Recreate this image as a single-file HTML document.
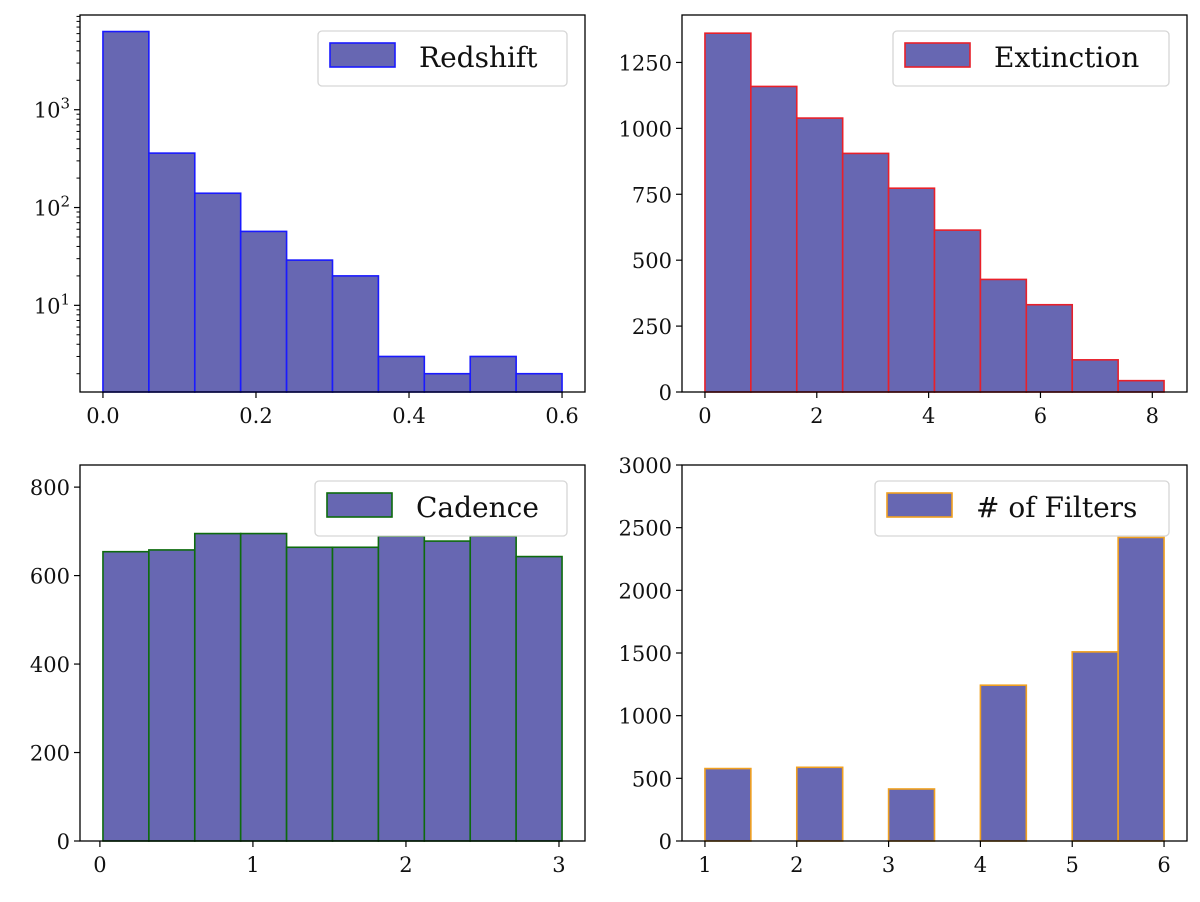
<!DOCTYPE html>
<html><head><meta charset="utf-8"><style>
html,body{margin:0;padding:0;background:#fff}
svg text{font-family:"DejaVu Serif","Liberation Serif",serif;fill:#111}
</style></head><body>
<svg id="fig" width="1200" height="897" xmlns="http://www.w3.org/2000/svg"></svg>
<script>
// Redshift
const redshiftEdgesMin = 0.0, redshiftEdgesMax = 0.6;
const redshiftCounts = [6300, 360, 140, 57, 29, 20, 3, 2, 3, 2];
const redshiftTicks = [0.0, 0.2, 0.4, 0.6];
const redshiftTickLabels = ["0.0", "0.2", "0.4", "0.6"];
const redshiftYTicks = [10, 100, 1000];
// Extinction
const extinctionMin = 0.0, extinctionMax = 8.21;
const extinctionCounts = [1361, 1159, 1039, 905, 773, 614, 427, 331, 122, 43];
const extinctionTicks = [0, 2, 4, 6, 8];
const extinctionYTicks = [0, 250, 500, 750, 1000, 1250];
// Cadence
const cadenceMin = 0.02, cadenceMax = 3.02;
const cadenceCounts = [654, 658, 695, 695, 664, 664, 689, 678, 689, 643];
const cadenceTicks = [0, 1, 2, 3];
const cadenceYTicks = [0, 200, 400, 600, 800];
// Filters
const filtersMin = 1, filtersMax = 6;
const filtersCounts = [578, 0, 588, 0, 415, 0, 1243, 0, 1509, 2422];
const filtersTicks = [1, 2, 3, 4, 5, 6];
const filtersYTicks = [0, 500, 1000, 1500, 2000, 2500, 3000];

const NS = "http://www.w3.org/2000/svg";
const svg = document.getElementById('fig');
function mk(tag, attrs, parent) {
  const e = document.createElementNS(NS, tag);
  for (const k in attrs) e.setAttribute(k, attrs[k]);
  (parent || svg).appendChild(e);
  return e;
}
const FILL = "#6767b2";

function panel(o) {
  const g = mk('g', {});
  
  
  const L = o.x0, R = o.x1, T = o.y0, B = o.y1;
  const span = o.max - o.min, xm = span * 0.05;
  const xs = v => L + (v - (o.min - xm)) / (span + 2 * xm) * (R - L);
  let ys;
  if (o.log) {
    const lo = Math.log10(o.ymin), hi = Math.log10(o.ymax);
    ys = v => B - (Math.log10(v) - lo) / (hi - lo) * (B - T);
  } else {
    ys = v => B - (v - o.ymin) / (o.ymax - o.ymin) * (B - T);
  }
  const n = o.counts.length, w = span / n;
  for (let i = 0; i < n; i++) {
    const v = o.counts[i];
    const xa = xs(o.min + i * w), xb = xs(o.min + (i + 1) * w);
    const base = o.log ? B : ys(0);
    const top = o.log ? (v > 0 ? ys(v) : B) : ys(v);
    const r = mk('rect', {x: xa, y: top, width: xb - xa, height: Math.max(0, base - top), fill: FILL, stroke: o.edge, 'stroke-width': 1.6}, g);
    
    
  }
  // frame
  const fr = mk('rect', {x: L, y: T, width: R - L, height: B - T, fill: 'none', stroke: '#000', 'stroke-width': 1.3}, g);
  
  
  // x ticks
  o.xticks.forEach((t, i) => {
    const x = xs(t);
    mk('line', {x1: x, x2: x, y1: B, y2: B + 6, stroke: '#000', 'stroke-width': 1.2}, g);
    const tx = mk('text', {x: x, y: B + 31, 'font-size': 21, 'text-anchor': 'middle'}, g);
    tx.textContent = o.xlabels ? o.xlabels[i] : String(t);
    
    
  });
  // y ticks
  o.yticks.forEach(t => {
    const y = ys(t);
    mk('line', {x1: L - 6, x2: L, y1: y, y2: y, stroke: '#000', 'stroke-width': 1.2}, g);
    const tx = mk('text', {x: L - 10, y: y + 8, 'font-size': 21, 'text-anchor': 'end'}, g);
    if (o.log) {
      tx.textContent = '10';
      const sup = mk('tspan', {dy: -9, 'font-size': 15}, tx);
      sup.textContent = String(Math.round(Math.log10(t)));
    } else tx.textContent = String(t);
    
    
  });
  if (o.log) {
    for (let d = 0; d <= 3; d++) for (let m = 2; m <= 9; m++) {
      const v = m * Math.pow(10, d);
      if (v < o.ymin || v > o.ymax) continue;
      const y = ys(v);
      mk('line', {x1: L - 3.5, x2: L, y1: y, y2: y, stroke: '#000', 'stroke-width': 1}, g);
    }
  }
  // legend
  const lg = mk('g', {}, g);
  
  
  mk('rect', {x: o.lx, y: o.ly, width: R - 18 - o.lx, height: 55, rx: 4, fill: 'rgba(255,255,255,0.85)', stroke: '#d6d6d6', 'stroke-width': 1.3}, lg);
  mk('rect', {x: o.lx + 12, y: o.ly + 12, width: 65, height: 24, fill: FILL, stroke: o.edge, 'stroke-width': 1.6}, lg);
  const lt = mk('text', {x: o.lx + 101, y: o.ly + 36, 'font-size': 28}, lg);
  lt.textContent = o.label;
  
  
}

panel({name: 'redshift', x0: 80, x1: 585, y0: 15, y1: 392, min: redshiftEdgesMin, max: redshiftEdgesMax,
  counts: redshiftCounts, log: true, ymin: 1.3, ymax: 9300, xticks: redshiftTicks, xlabels: redshiftTickLabels,
  yticks: redshiftYTicks, edge: '#1a1aff', label: 'Redshift', lx: 318, ly: 31});
panel({name: 'extinction', x0: 682, x1: 1187, y0: 15, y1: 392, min: extinctionMin, max: extinctionMax,
  counts: extinctionCounts, log: false, ymin: 0, ymax: 1430, xticks: extinctionTicks,
  yticks: extinctionYTicks, edge: '#e8202a', label: 'Extinction', lx: 893, ly: 31});
panel({name: 'cadence', x0: 80, x1: 585, y0: 465, y1: 841, min: cadenceMin, max: cadenceMax,
  counts: cadenceCounts, log: false, ymin: 0, ymax: 850, xticks: cadenceTicks,
  yticks: cadenceYTicks, edge: '#0d6b0d', label: 'Cadence', lx: 315, ly: 481});
panel({name: 'filters', x0: 682, x1: 1187, y0: 465, y1: 841, min: filtersMin, max: filtersMax,
  counts: filtersCounts, log: false, ymin: 0, ymax: 3000, xticks: filtersTicks,
  yticks: filtersYTicks, edge: '#f0a020', label: '# of Filters', lx: 875, ly: 481});
</script>
</body></html>
